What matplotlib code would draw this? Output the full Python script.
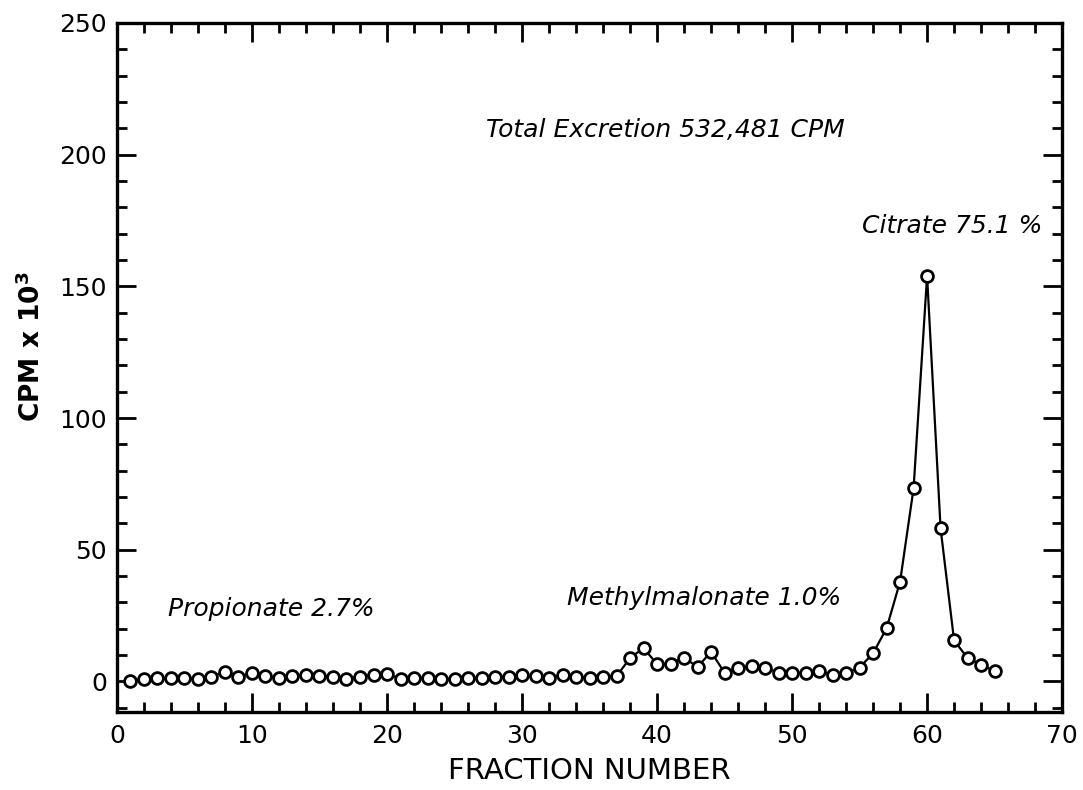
import numpy as np
import matplotlib
matplotlib.use("Agg")
import matplotlib.pyplot as plt
from matplotlib.ticker import MultipleLocator

# fraction numbers and counts (CPM x 10^3)
fractions = list(range(1, 66))
cpm = [0.3, 0.9, 1.3, 1.3, 1.3, 0.9, 1.8, 3.7, 1.8, 3.2,
       2.1, 1.3, 2.1, 2.5, 2.1, 1.8, 0.9, 1.8, 2.5, 3.0,
       1.0, 1.4, 1.4, 1.0, 1.0, 1.4, 1.4, 1.8, 1.8, 2.3,
       2.0, 1.4, 2.5, 1.8, 1.4, 1.8, 2.0, 8.9, 12.7, 6.6,
       6.8, 9.1, 5.5, 11.3, 3.3, 5.0, 5.8, 5.2, 3.3, 3.3,
       3.3, 3.8, 2.5, 3.1, 5.3, 10.7, 20.2, 37.9, 73.3, 154.0,
       58.1, 15.6, 8.9, 6.4, 3.9]

x_ticks = [0, 10, 20, 30, 40, 50, 60, 70]
y_ticks = [0, 50, 100, 150, 200, 250]

# annotations: (text, x, y)
notes = [
    ("Total Excretion 532,481 CPM", 27.3, 209.5),
    ("Citrate 75.1 %", 55.2, 172.8),
    ("Methylmalonate 1.0%", 33.3, 31.8),
    ("Propionate 2.7%", 3.8, 27.6),
]

plt.rcParams['font.family'] = ['DejaVu Sans']

fig = plt.figure(figsize=(10.83, 7.90), dpi=100)
ax = fig.add_axes([0.108, 0.099, 0.8727, 0.872])

ax.plot(fractions, cpm, color='black', linewidth=1.6, marker='o',
        markersize=8.5, markerfacecolor='white', markeredgecolor='black',
        markeredgewidth=2.0)

ax.set_xlim(0, 70)
ax.set_ylim(-11.5, 250)
ax.set_xticks(x_ticks)
ax.set_yticks(y_ticks)
ax.xaxis.set_minor_locator(MultipleLocator(2))
ax.yaxis.set_minor_locator(MultipleLocator(10))

ax.tick_params(which='both', direction='in', top=True, right=True,
               width=2.0, labelsize=18)
ax.tick_params(which='major', length=14)
ax.tick_params(which='minor', length=7)
ax.tick_params(axis='x', which='major', pad=9)
ax.tick_params(axis='y', which='major', pad=7)
for s in ax.spines.values():
    s.set_linewidth(2.4)

ax.set_xlabel('FRACTION NUMBER', fontsize=21, labelpad=6)
ax.set_ylabel(r'CPM x 10$^{\mathbf{3}}$', fontsize=19, fontweight='bold', labelpad=14)
ax.yaxis.set_label_coords(-0.075, 0.53)

for txt, x, y in notes:
    ax.text(x, y, txt, fontsize=18, fontstyle='italic', va='center', ha='left')

fig.savefig('out.png', dpi=100)
